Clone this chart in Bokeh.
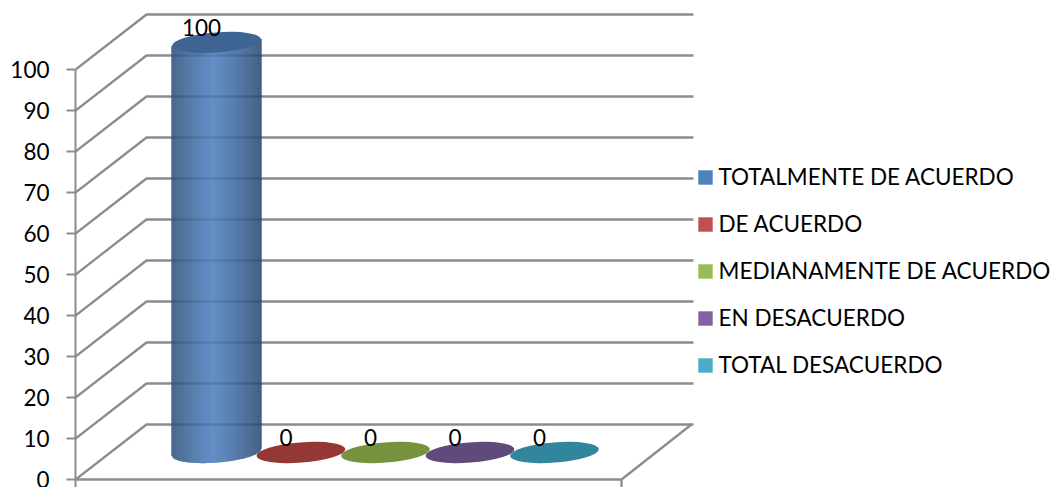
import numpy as np
from bokeh.embed import file_html
from bokeh.resources import INLINE
from bokeh.plotting import figure
from bokeh.models import Range1d, FixedTicker, Legend, LegendItem
from bokeh.core.properties import value

# --- data
categories = ["TOTALMENTE DE ACUERDO", "DE ACUERDO", "MEDIANAMENTE DE ACUERDO", "EN DESACUERDO", "TOTAL DESACUERDO"]
values = [100, 0, 0, 0, 0]
value_ticks = [0, 10, 20, 30, 40, 50, 60, 70, 80, 90, 100]
legend_colors = ["#4F81BD", "#C0504D", "#9BBB59", "#8064A2", "#4BACC6"]
top_colors = ["#3F6594", "#953735", "#76923C", "#604A7B", "#31859C"]

# --- layout (x in page pixels, y in value units)
PX = 4.1           # pixels per value unit
W, H = 1055, 487
FONT = "Lato"
GRID = "#8C8C8C"
x_left, x_right = 75, 621
depth_x, depth_y = 71, 55 / PX
base = 27 / PX
bar_x0, bar_step = 216, 84.5
a, b, tilt = 44.5, 10.1, np.radians(4.5)

p = figure(width=W, height=H, output_backend="svg", toolbar_location=None,
           x_range=Range1d(75, W), y_range=Range1d(-8 / PX, 479 / PX),
           min_border_left=75, min_border_right=0, min_border_top=0, min_border_bottom=0,
           x_axis_location=None, outline_line_color=None, background_fill_color="white",
           border_fill_color="white")
p.grid.visible = False

ax = p.yaxis[0]
ax.ticker = FixedTicker(ticks=value_ticks)
ax.bounds = (-8 / PX, 100)
ax.axis_line_color = GRID
ax.axis_line_width = 2
ax.major_tick_line_color = GRID
ax.major_tick_line_width = 2
ax.major_tick_out = 9
ax.major_tick_in = 0
ax.minor_tick_line_color = None
ax.major_label_text_font = FONT
ax.major_label_text_font_size = "22.5px"
ax.major_label_text_color = "black"
ax.major_label_standoff = 17

# walls and floor
for t in value_ticks:
    p.line([x_left, x_left + depth_x, x_right + depth_x + 1], [t, t + depth_y, t + depth_y],
           line_color=GRID, line_width=2.3)
p.line([x_left, x_right, x_right + depth_x - 1], [0, 0, depth_y], line_color=GRID, line_width=2.3)
p.line([x_right, x_right], [0, -8 / PX], line_color=GRID, line_width=2.3)

# lower rim of a tilted ellipse, relative to its centre
t_ = np.linspace(np.pi, 2 * np.pi, 400)
ex = a * np.cos(t_) * np.cos(tilt) - b * np.sin(t_) * np.sin(tilt)
ey = a * np.cos(t_) * np.sin(tilt) + b * np.sin(t_) * np.cos(tilt)
order = np.argsort(ex)
ex, ey = ex[order], ey[order]

legend_items = []
for i, (cat, val) in enumerate(zip(categories, values)):
    cx = bar_x0 + i * bar_step
    if val > 0:
        dx = np.arange(-a, a + 1, 1.0)
        u = np.abs(dx + 3) / (a + 3)
        rgb0, rgb1 = np.array([0x4E, 0x7F, 0xBE]), np.array([0x2C, 0x4C, 0x72])
        cols = ["#%02x%02x%02x" % tuple(int(c) for c in (rgb0 + (rgb1 - rgb0) * min(k, 1.0) ** 1.2)) for k in u]
        bottoms = base + np.interp(dx, ex, ey) / PX
        tops = base + val + dx * np.tan(tilt) / PX
        p.vbar(x=cx + dx, width=1.3, bottom=bottoms, top=tops, fill_color=cols, fill_alpha=1.0, line_color=None)
    p.ellipse(x=[cx], y=[base + val], width=2 * a, height=2 * b / PX, angle=tilt,
              fill_color=top_colors[i], fill_alpha=1.0, line_color=None)
    r = p.quad(left=[float("nan")], right=[float("nan")], bottom=[float("nan")], top=[float("nan")],
               fill_color=legend_colors[i], fill_alpha=1.0, line_color=None)
    legend_items.append(LegendItem(label=cat, renderers=[r]))

for i, val in enumerate(values):
    p.text(x=[bar_x0 + i * bar_step - 15], y=[base + val + 15 / PX], text=[str(val)],
           text_font=value(FONT), text_font_size="22.5px", text_color="black",
           text_align="center", text_baseline="middle")

lg = Legend(items=legend_items, location=(695.5 - 75, 487 - 378), orientation="vertical",
            glyph_width=18, glyph_height=18, label_standoff=5, spacing=20, padding=0, margin=0,
            label_text_font=FONT, label_text_font_size="22.5px", label_text_color="black",
            label_height=20, border_line_color=None, background_fill_alpha=0)
p.add_layout(lg, "center")

open("out.html", "w").write(file_html(p, INLINE))
